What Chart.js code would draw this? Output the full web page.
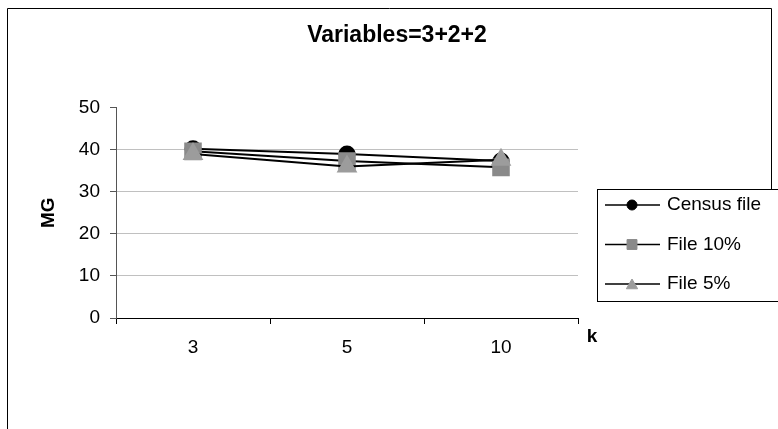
<!DOCTYPE html>
<html>
<head>
<meta charset="utf-8">
<script src="https://cdn.jsdelivr.net/npm/chart.js@4.4.1/dist/chart.umd.min.js"></script>
<style>
  html, body { margin: 0; padding: 0; background: #fff; }
  #wrap { width: 778px; height: 429px; }
</style>
</head>
<body>
<div id="wrap"><canvas id="mg"></canvas></div>
<script>
const kLabels = ['3', '5', '10'];
const censusFile = [40.2, 39.0, 37.3];
const file10 = [39.6, 37.3, 35.8];
const file5 = [39.0, 36.0, 37.6];
const yTicks = [0, 10, 20, 30, 40, 50];

const chartTitle = 'Variables=3+2+2';
const yTitle = 'MG';
const xTitle = 'k';

const FONT = "'Liberation Sans', Arial, sans-serif";

// small markers used in the legend box
const legendRadius = { circle: 5, rect: 7, triangle: 6.5 };

const framePlugin = {
  id: 'frame',
  beforeDraw(chart) {
    const { ctx, width, height } = chart;
    ctx.save();
    ctx.fillStyle = '#fff';
    ctx.fillRect(0, 0, width, height);
    ctx.restore();
  },
  afterDraw(chart) {
    const { ctx, chartArea } = chart;
    const lx = chartArea.right + 19;
    const ly = 189;
    ctx.save();

    // outer frame
    ctx.strokeStyle = '#000';
    ctx.lineWidth = 1;
    ctx.beginPath();
    ctx.moveTo(7.5, chart.height);
    ctx.lineTo(7.5, 8.5);
    ctx.lineTo(771.5, 8.5);
    ctx.lineTo(771.5, ly);
    ctx.stroke();

    // x axis title sits at the right end of the axis
    ctx.fillStyle = '#000';
    ctx.font = 'bold 19px ' + FONT;
    ctx.textAlign = 'center';
    ctx.textBaseline = 'middle';
    ctx.fillText(xTitle, chartArea.right + 14, chartArea.bottom + 19);

    // legend
    ctx.fillStyle = '#fff';
    ctx.fillRect(lx, ly, 400, 112);
    ctx.strokeStyle = '#000';
    ctx.strokeRect(lx + 0.5, ly + 0.5, 400, 112);
    ctx.font = '19px ' + FONT;
    ctx.textAlign = 'left';
    chart.data.datasets.forEach((ds, i) => {
      const y = ly + 16 + i * 39.5;
      ctx.strokeStyle = '#000';
      ctx.lineWidth = 1.5;
      ctx.beginPath();
      ctx.moveTo(lx + 8, y);
      ctx.lineTo(lx + 63, y);
      ctx.stroke();
      ctx.fillStyle = ds.pointBackgroundColor;
      ctx.strokeStyle = ds.pointBorderColor;
      ctx.lineWidth = 1;
      Chart.helpers.drawPoint(ctx, {
        pointStyle: ds.pointStyle,
        radius: legendRadius[ds.pointStyle],
        rotation: 0,
        borderWidth: 1
      }, lx + 35, ds.pointStyle === 'triangle' ? y + 1.5 : y);
      ctx.fillStyle = '#000';
      ctx.fillText(ds.label, lx + 70, y);
    });
    ctx.restore();
  }
};

new Chart(document.getElementById('mg'), {
  type: 'line',
  data: {
    labels: kLabels,
    datasets: [
      {
        label: 'Census file',
        data: censusFile,
        borderColor: '#000',
        borderWidth: 2,
        pointStyle: 'circle',
        pointRadius: 7.5,
        pointBackgroundColor: '#000',
        pointBorderColor: '#000',
        order: 3
      },
      {
        label: 'File 10%',
        data: file10,
        borderColor: '#000',
        borderWidth: 2,
        pointStyle: 'rect',
        pointRadius: 11,
        pointBackgroundColor: '#8a8a8a',
        pointBorderColor: '#8a8a8a',
        order: 2
      },
      {
        label: 'File 5%',
        data: file5,
        borderColor: '#000',
        borderWidth: 2,
        pointStyle: 'triangle',
        pointRadius: 10,
        pointBackgroundColor: '#9c9c9c',
        pointBorderColor: '#9c9c9c',
        order: 1
      }
    ]
  },
  options: {
    responsive: true,
    maintainAspectRatio: false,
    animation: false,
    layout: { padding: { left: 16, right: 0, top: 0, bottom: 0 } },
    plugins: {
      legend: { display: false },
      tooltip: { enabled: false },
      title: {
        display: true,
        text: chartTitle,
        color: '#000',
        font: { family: FONT, size: 23, weight: 'bold' },
        padding: { top: 22, bottom: 58 }
      }
    },
    scales: {
      x: {
        type: 'category',
        offset: true,
        grid: { offset: true, drawOnChartArea: false, tickLength: 6, tickColor: '#000' },
        border: { color: '#000', width: 1 },
        ticks: { color: '#000', padding: 12, font: { family: FONT, size: 19 } },
        afterFit: s => { s.height = 111; }
      },
      y: {
        min: yTicks[0],
        max: yTicks[yTicks.length - 1],
        grid: {
          color: c => (c.tick && (c.tick.value === yTicks[0] || c.tick.value === yTicks[yTicks.length - 1])) ? 'rgba(0,0,0,0)' : '#c0c0c0',
          tickColor: '#555',
          tickLength: 6
        },
        border: { color: '#555', width: 1 },
        ticks: { stepSize: yTicks[1] - yTicks[0], color: '#000', padding: 10, font: { family: FONT, size: 19 } },
        title: {
          display: true,
          text: yTitle,
          color: '#000',
          font: { family: FONT, size: 19, weight: 'bold' },
          padding: { top: 21, bottom: 0 }
        },
        afterFit: s => { s.width = 100; }
      },
      // empty axis that keeps room for the legend on the right
      side: {
        position: 'right',
        display: true,
        grid: { display: false },
        border: { display: false },
        ticks: { display: false },
        afterFit: s => { s.width = 200; }
      }
    }
  },
  plugins: [framePlugin]
});
</script>
</body>
</html>
